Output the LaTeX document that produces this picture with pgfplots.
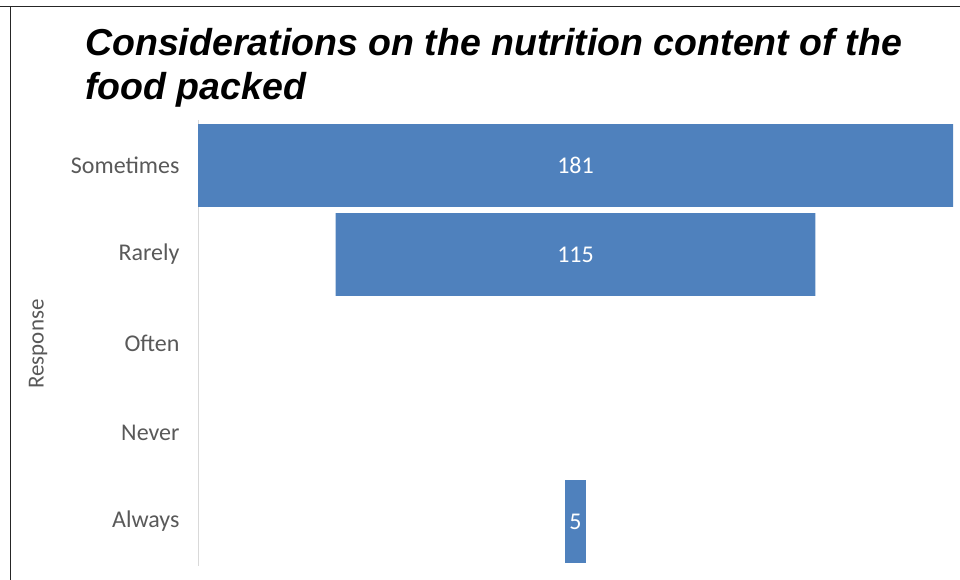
\documentclass[border=0pt]{standalone}
\usepackage{pgfplots}
\pgfplotsset{compat=1.18}
\usepackage{pgfplotstable}
\usepackage{fontspec}
\setmainfont{Carlito}
\newfontfamily\titlefont{Liberation Sans}
\definecolor{barblue}{HTML}{4F81BD}
\definecolor{labgray}{HTML}{595959}
\definecolor{axgray}{HTML}{D9D9D9}
\pgfplotstableread{
pos off val
0 0    181
1 33   115
2 90.5 0
3 90.5 0
4 88   5
}\funnel
\pgfplotstableread{
pos c lab
0 90.5 181
1 90.5 115
4 90.5 5
}\labels
\begin{document}
\begin{tikzpicture}
\useasboundingbox (0,0) rectangle (960bp,-580bp);
\draw[black!85, line width=1.2bp] (0,-6.5bp) -- (960bp,-6.5bp);
\draw[black!85, line width=1.2bp] (10.5bp,-6.5bp) -- (10.5bp,-580bp);
\node[anchor=base west, inner sep=0] at (85bp,-55bp) {\titlefont\bfseries\itshape\fontsize{37.5bp}{44bp}\selectfont Considerations on the nutrition content of the};
\node[anchor=base west, inner sep=0] at (85bp,-99bp) {\titlefont\bfseries\itshape\fontsize{37.5bp}{44bp}\selectfont food packed};
\node[rotate=90, text=labgray, inner sep=0] at (38bp,-344bp) {\fontsize{23bp}{27bp}\selectfont Response};
\begin{axis}[
  at={(198bp,-566bp)}, anchor=south west,
  width=755bp, height=445bp, scale only axis,
  xbar stacked, bar width=0.93,
  xmin=0, xmax=181, ymin=-0.5, ymax=4.5,
  y dir=reverse,
  axis lines=none,
  clip=false,
]
\addplot[draw=none, fill=none] table[x=off, y=pos] {\funnel};
\addplot[draw=none, fill=barblue] table[x=val, y=pos] {\funnel};
\draw[axgray, line width=1bp] (axis cs:0,-0.51) -- (axis cs:0,4.5);
\end{axis}
\begin{axis}[
  at={(198bp,-566bp)}, anchor=south west,
  width=755bp, height=445bp, scale only axis,
  xmin=0, xmax=181, ymin=-0.5, ymax=4.5,
  y dir=reverse,
  axis x line=none,
  axis y line*=left, y axis line style={draw=none},
  ytick={0,1,2,3,4},
  yticklabels={Sometimes,Rarely,Often,Never,Always},
  ytick style={draw=none},
  yticklabel style={text=labgray, font=\fontsize{24bp}{28bp}\selectfont, xshift=-15bp},
  clip=false,
]
\addplot[draw=none, mark=none, nodes near coords, point meta=explicit symbolic,
  every node near coord/.style={anchor=center, text=white, font=\fontsize{24bp}{28bp}\selectfont}]
  table[x=c, y=pos, meta=lab] {\labels};
\end{axis}
\end{tikzpicture}
\end{document}
